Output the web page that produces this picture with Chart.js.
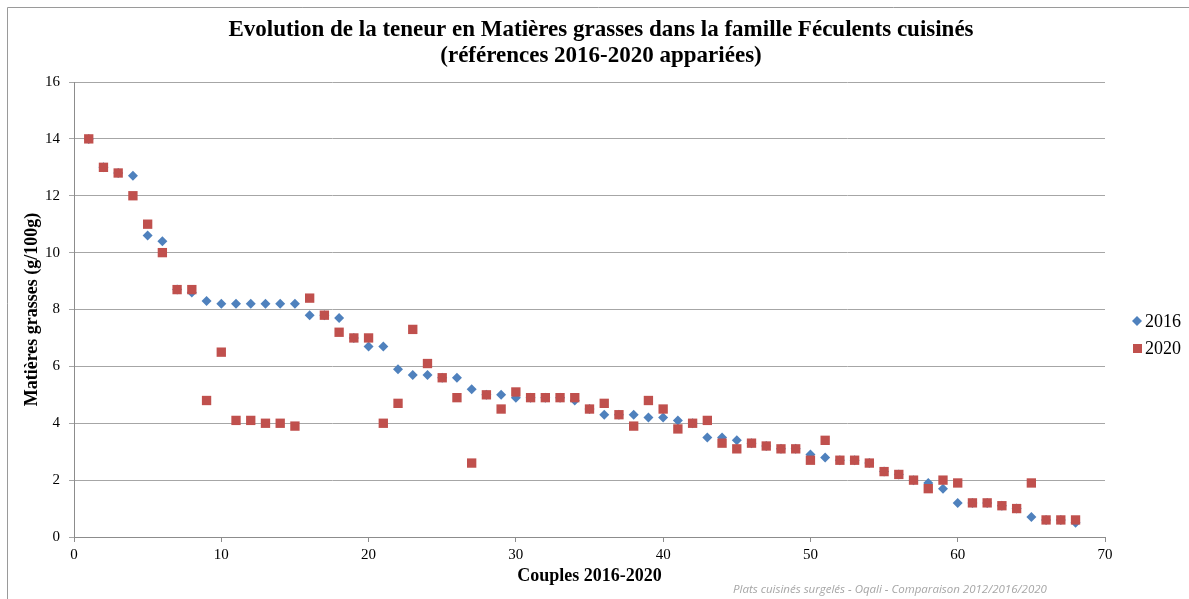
<!DOCTYPE html>
<html>
<head>
<meta charset="utf-8">
<script src="https://cdn.jsdelivr.net/npm/chart.js@4"></script>
<style>
  html, body { margin: 0; padding: 0; background: #fff; }
  #wrap { width: 1189px; height: 599px; }
</style>
</head>
<body>
<div id="wrap"><canvas id="chart" width="1189" height="599"></canvas></div>
<script>
// couples 2016-2020 (x) and fat content (g/100g)
const couples = [1,2,3,4,5,6,7,8,9,10,11,12,13,14,15,16,17,18,19,20,21,22,23,24,25,26,27,28,29,30,31,32,33,34,
  35,36,37,38,39,40,41,42,43,44,45,46,47,48,49,50,51,52,53,54,55,56,57,58,59,60,61,62,63,64,65,66,67,68];
const mg2016 = [14,13,12.8,12.7,10.6,10.4,8.7,8.6,8.3,8.2, 8.2,8.2,8.2,8.2,8.2,7.8,7.8,7.7,7.0,6.7,
  6.7,5.9,5.7,5.7,5.6,5.6,5.2,5.0,5.0,4.9, 4.9,4.9,4.9,4.8,4.5,4.3,4.3,4.3,4.2,4.2,
  4.1,4.0,3.5,3.5,3.4,3.3,3.2,3.1,3.1,2.9, 2.8,2.7,2.7,2.6,2.3,2.2,2.0,1.9,1.7,1.2,
  1.2,1.2,1.1,1.0,0.7,0.6,0.6,0.5];
const mg2020 = [14,13,12.8,12,11,10,8.7,8.7,4.8,6.5, 4.1,4.1,4.0,4.0,3.9,8.4,7.8,7.2,7.0,7.0,
  4.0,4.7,7.3,6.1,5.6,4.9,2.6,5.0,4.5,5.1, 4.9,4.9,4.9,4.9,4.5,4.7,4.3,3.9,4.8,4.5,
  3.8,4.0,4.1,3.3,3.1,3.3,3.2,3.1,3.1,2.7, 3.4,2.7,2.7,2.6,2.3,2.2,2.0,1.7,2.0,1.9,
  1.2,1.2,1.1,1.0,1.9,0.6,0.6,0.6];
const seriesNames = ["2016", "2020"];
const titleLines = ["Evolution de la teneur en Matières grasses dans la famille Féculents cuisinés",
  "(références 2016-2020 appariées)"];
const xTitle = "Couples 2016-2020";
const yTitle = "Matières grasses (g/100g)";
const sourceNote = "Plats cuisinés surgelés - Oqali - Comparaison 2012/2016/2020";

const BLUE = "#4F81BD";
const RED = "#C0504D";
const SERIF = "'Liberation Serif', 'DejaVu Serif', serif";

const toPoints = vals => couples.map((c, i) => ({ x: c, y: vals[i] }));

// title, legend, frame and source note
const decor = {
  id: "decor",
  beforeDraw(chart) {
    const ctx = chart.ctx;
    ctx.save();
    ctx.fillStyle = "#fff";
    ctx.fillRect(0, 0, chart.width, chart.height);
    ctx.strokeStyle = "#9a9a9a";
    ctx.lineWidth = 1;
    ctx.beginPath();
    ctx.moveTo(7.5, chart.height);
    ctx.lineTo(7.5, 7.5);
    ctx.lineTo(chart.width, 7.5);
    ctx.stroke();
    ctx.restore();
  },
  afterDraw(chart) {
    const ctx = chart.ctx;
    ctx.save();
    ctx.fillStyle = "#000";
    ctx.textAlign = "center";
    ctx.textBaseline = "middle";
    ctx.font = "bold 23px " + SERIF;
    ctx.fillText(titleLines[0], 601, 30);
    ctx.fillText(titleLines[1], 601, 56);

    // legend
    ctx.textAlign = "left";
    ctx.font = "18px " + SERIF;
    ctx.fillStyle = BLUE;
    ctx.beginPath();
    ctx.moveTo(1137, 316); ctx.lineTo(1142, 321); ctx.lineTo(1137, 326); ctx.lineTo(1132, 321);
    ctx.closePath(); ctx.fill();
    ctx.fillStyle = RED;
    ctx.fillRect(1133, 344, 9, 9);
    ctx.fillStyle = "#000";
    ctx.fillText(seriesNames[0], 1145, 322);
    ctx.fillText(seriesNames[1], 1145, 349);

    // source
    ctx.font = "italic 11.5px 'Open Sans', sans-serif";
    ctx.fillStyle = "#a6a6a6";
    ctx.textAlign = "center";
    ctx.fillText(sourceNote, 890, 590);
    ctx.restore();
  }
};

new Chart(document.getElementById("chart"), {
  type: "scatter",
  data: {
    datasets: [
      { label: seriesNames[0], data: toPoints(mg2016), order: 1,
        pointStyle: "rectRot", pointRadius: 5, pointHoverRadius: 5,
        backgroundColor: BLUE, borderColor: BLUE, borderWidth: 0 },
      { label: seriesNames[1], data: toPoints(mg2020), order: 0,
        pointStyle: "rect", pointRadius: 6.6, pointHoverRadius: 6.6,
        backgroundColor: RED, borderColor: RED, borderWidth: 0 }
    ]
  },
  options: {
    responsive: false,
    animation: false,
    layout: { padding: { left: 0, top: 82, right: 84, bottom: 0 } },
    plugins: { legend: { display: false }, title: { display: false }, tooltip: { enabled: false } },
    scales: {
      x: {
        type: "linear", min: 0, max: 70,
        afterFit: s => { s.height = 62; },
        ticks: { stepSize: 10, color: "#000", padding: 4, font: { family: SERIF, size: 15 } },
        grid: { drawOnChartArea: false, drawTicks: true, tickLength: 5, color: "#8c8c8c" },
        border: { color: "#8c8c8c" },
        title: { display: true, text: xTitle, color: "#000", padding: { top: 0, bottom: 12 },
          font: { family: SERIF, size: 18, weight: "bold" } }
      },
      y: {
        min: 0, max: 16,
        afterFit: s => { s.width = 74; },
        ticks: { stepSize: 2, color: "#000", padding: 9, font: { family: SERIF, size: 15 } },
        grid: { drawTicks: true, tickLength: 5, color: "#a6a6a6" },
        border: { color: "#8c8c8c" },
        title: { display: true, text: yTitle, color: "#000", padding: { top: 22, bottom: 0 },
          font: { family: SERIF, size: 18, weight: "bold" } }
      }
    }
  },
  plugins: [decor]
});
</script>
</body>
</html>
